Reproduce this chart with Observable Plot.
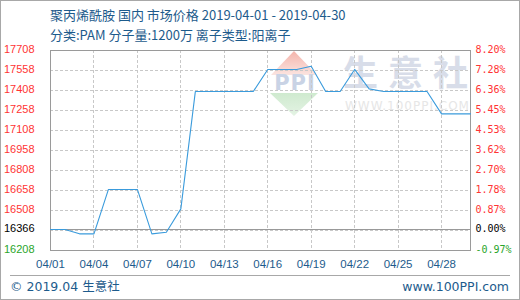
<!DOCTYPE html>
<html>
<head>
<meta charset="utf-8">
<script src="https://cdn.jsdelivr.net/npm/d3@7"></script>
<script src="https://cdn.jsdelivr.net/npm/@observablehq/plot@0.6"></script>
<style>
  html, body { margin: 0; padding: 0; background: #fff; }
  #chart { position: relative; width: 520px; height: 300px; overflow: hidden; background: #fff;
           font-family: "DejaVu Sans", "Noto Sans CJK SC", sans-serif; color: #1d5b8c; }
  .border { position: absolute; left: 0; top: 0; width: 520px; height: 300px; box-sizing: border-box;
            border: 1px solid #a8a8a8; pointer-events: none; }
  .title { position: absolute; left: 50px; top: 8px; font-size: 13px; line-height: 13px; white-space: nowrap;
           font-family: "Noto Sans CJK SC", sans-serif; }
  .subtitle { position: absolute; left: 50px; top: 28px; font-size: 13px; line-height: 13px; white-space: nowrap;
              font-family: "Noto Sans CJK SC", sans-serif; }
  .sep { position: absolute; left: 10px; top: 275px; width: 500px; height: 1px; background: #a8a8a8; }
  .foot-left { position: absolute; left: 10px; top: 280px; font-size: 12.5px; line-height: 13px; white-space: nowrap; }
  .foot-right { position: absolute; right: 11px; top: 280px; font-size: 12.5px; line-height: 13px; white-space: nowrap; }
  #mark { position: absolute; left: 0; top: 0; }
  #plot { position: absolute; left: 0; top: 40px; }
  #plot svg { overflow: visible; }
</style>
</head>
<body>
<div id="chart">
  <svg id="mark" width="520" height="300">
    <defs>
      <linearGradient id="redFade" x1="0" y1="0" x2="0" y2="1">
        <stop offset="0" stop-color="#f4b4ab"/>
        <stop offset="1" stop-color="#fbe4e0"/>
      </linearGradient>
      <linearGradient id="greenFade" x1="0" y1="0" x2="0" y2="1">
        <stop offset="0" stop-color="#cfeacf"/>
        <stop offset="1" stop-color="#e4f3e4"/>
      </linearGradient>
    </defs>
    <!-- faint site emblem behind the plot -->
    <polygon points="294,51 271,75 317,75" fill="url(#redFade)"/>
    <polygon points="270,93 318,93 294,116" fill="url(#greenFade)"/>
    <text x="295" y="90" text-anchor="middle" font-family="DejaVu Sans" font-weight="bold" font-size="21" fill="#c9d3e5" letter-spacing="1">PPI</text>
    <text x="343" y="86" font-family="Noto Sans CJK SC" font-weight="bold" font-size="35" fill="#d8dde9" letter-spacing="10">生意社</text>
    <text x="345" y="110" font-family="DejaVu Sans" font-size="12" fill="#e6e6e6" letter-spacing="1">WWW.100PPI.COM</text>
  </svg>
  <div id="plot"></div>
  <div class="title">聚丙烯酰胺 国内 市场价格 2019-04-01 - 2019-04-30</div>
  <div class="subtitle">分类:PAM 分子量:1200万 离子类型:阳离子</div>
  <div class="sep"></div>
  <div class="foot-left">© 2019.04 生意社</div>
  <div class="foot-right">www.100PPI.com</div>
  <div class="border"></div>
</div>
<script>
// Daily PAM (cationic, MW 12 million) domestic prices, April 2019
const dates = [
  "2019-04-01","2019-04-02","2019-04-03","2019-04-04","2019-04-05","2019-04-06",
  "2019-04-07","2019-04-08","2019-04-09","2019-04-10","2019-04-11","2019-04-12",
  "2019-04-13","2019-04-14","2019-04-15","2019-04-16","2019-04-17","2019-04-18",
  "2019-04-19","2019-04-20","2019-04-21","2019-04-22","2019-04-23","2019-04-24",
  "2019-04-25","2019-04-26","2019-04-27","2019-04-28","2019-04-29","2019-04-30"
];
const prices = [
  16366, 16366, 16333, 16333, 16666, 16666,
  16666, 16333, 16345, 16520, 17400, 17400,
  17400, 17400, 17400, 17566, 17566, 17566,
  17590, 17400, 17400, 17566, 17420, 17400,
  17400, 17400, 17400, 17233, 17233, 17233
];

// Axis ticks
const xTickDates = ["2019-04-01","2019-04-04","2019-04-07","2019-04-10","2019-04-13",
                    "2019-04-16","2019-04-19","2019-04-22","2019-04-25","2019-04-28"];
const xTickLabels = ["04/01","04/04","04/07","04/10","04/13","04/16","04/19","04/22","04/25","04/28"];
const yDomain = [16208, 17708];
const basePrice = 16366;
const yGridValues = [16358, 16508, 16658, 16808, 16958, 17108, 17258, 17408, 17558];
const yTickValues = [17708, 17558, 17408, 17258, 17108, 16958, 16808, 16658, 16508, 16366, 16208];
const yTickLabels = ["17708","17558","17408","17258","17108","16958","16808","16658","16508","16366","16208"];
const pctTickLabels = ["8.20%","7.28%","6.36%","5.45%","4.53%","3.62%","2.70%","1.78%","0.87%","0.00%","-0.97%"];

const series = dates.map((d, i) => ({date: new Date(d), price: prices[i]}));
const xTicks = xTickDates.map((d, i) => ({date: new Date(d), label: xTickLabels[i]}));
const yTicks = yTickValues.map((v, i) => ({value: v, label: yTickLabels[i], pct: pctTickLabels[i]}));
const tickColor = d => d.value > basePrice ? "#ff3333" : d.value < basePrice ? "#2aa52a" : "#000000";

const gridStyle = {stroke: "#c8c8c8", strokeDasharray: "3,2", shapeRendering: "crispEdges"};

const chart = Plot.plot({
  width: 520,
  height: 235,
  marginLeft: 50,
  marginRight: 50,
  marginTop: 10,
  marginBottom: 25,
  style: {background: "transparent", fontFamily: "'Liberation Sans', Arial, sans-serif", overflow: "visible"},
  x: {type: "utc", domain: [new Date(dates[0]), new Date(dates[dates.length - 1])], axis: null},
  y: {domain: yDomain, axis: null},
  marks: [
    Plot.ruleY(yGridValues, gridStyle),
    Plot.ruleX(xTicks.slice(1), {x: "date", ...gridStyle}),
    Plot.ruleY([basePrice], {stroke: "#999999", shapeRendering: "crispEdges"}),
    Plot.frame({stroke: "#9a9a9a", shapeRendering: "crispEdges"}),
    Plot.line(series, {x: "date", y: "price", stroke: "#3a9bdc", strokeWidth: 1.1}),
    Plot.text(yTicks, {y: "value", text: "label", frameAnchor: "left", textAnchor: "end",
                       dx: -16, dy: -1, fill: tickColor, fontSize: 11}),
    Plot.text(yTicks, {y: "value", text: "pct", frameAnchor: "right", textAnchor: "start",
                       dx: 5, dy: -1, fill: tickColor, fontSize: 10, fontFamily: "'DejaVu Sans Mono', monospace"}),
    Plot.text(xTicks, {x: "date", text: "label", frameAnchor: "bottom", dy: 17,
                       fill: "#1d5b8c", fontSize: 11.5})
  ]
});
document.getElementById("plot").appendChild(chart);
</script>
</body>
</html>
